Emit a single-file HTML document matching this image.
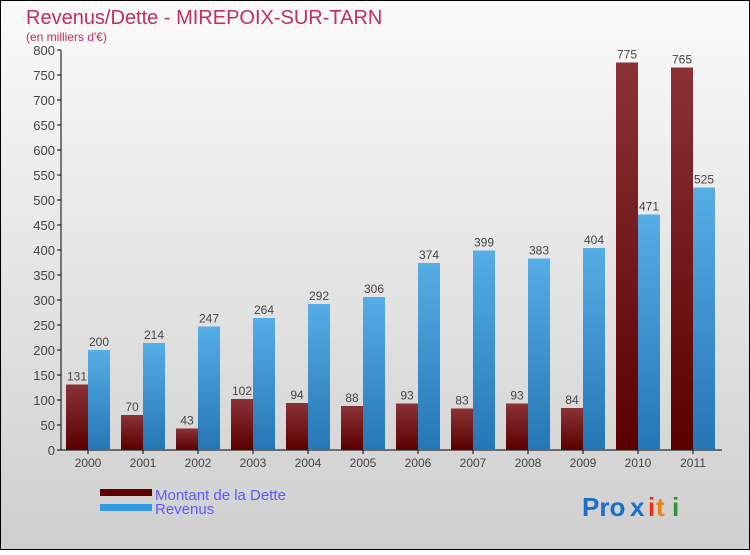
<!DOCTYPE html>
<html><head><meta charset="utf-8"><style>
body{margin:0;width:750px;height:550px;overflow:hidden;font-family:"Liberation Sans",sans-serif}
</style></head><body>
<svg id="chart" width="750" height="550" xmlns="http://www.w3.org/2000/svg" font-family="Liberation Sans, sans-serif">
<defs>
<linearGradient id="bg" x1="0" y1="0" x2="0" y2="1"><stop offset="0" stop-color="#fafafa"/><stop offset="1" stop-color="#cfcfcf"/></linearGradient>
<linearGradient id="gd" x1="0" y1="0" x2="0" y2="1"><stop offset="0" stop-color="#8a3236"/><stop offset="1" stop-color="#5a0000"/></linearGradient>
<linearGradient id="gr" x1="0" y1="0" x2="0" y2="1"><stop offset="0" stop-color="#56aee6"/><stop offset="1" stop-color="#2576b4"/></linearGradient>
</defs>
<rect x="0.5" y="0.5" width="749" height="549" fill="url(#bg)" stroke="#000"/>
<text x="26" y="24" font-size="20" fill="#c0305a">Revenus/Dette - MIREPOIX-SUR-TARN</text>
<text x="26" y="41" font-size="12" fill="#c0305a">(en milliers d'€)</text>
<g id="axes"></g><g id="bars"></g>
<rect x="100" y="489" width="52" height="7" fill="#600000"/>
<text x="155" y="500" font-size="15" fill="#5a5aff">Montant de la Dette</text>
<rect x="100" y="504" width="52" height="7" fill="#3399e0"/>
<text x="155" y="514" font-size="15" fill="#5a5aff">Revenus</text>
<g font-size="26" font-weight="bold">
<text x="582" y="516" fill="#1a6fc8">Pro</text><text x="630" y="516" fill="#1a6fc8">x</text><text x="648" y="516" fill="#e83010">i</text><text x="656" y="516" fill="#f08010">t</text><text x="672" y="516" fill="#2a9a30">i</text>
</g>
</svg>
<script>
const years=["2000","2001","2002","2003","2004","2005","2006","2007","2008","2009","2010","2011"];
const dette=[131,70,43,102,94,88,93,83,93,84,775,765];
const revenus=[200,214,247,264,292,306,374,399,383,404,471,525];
const yTicks=[0,50,100,150,200,250,300,350,400,450,500,550,600,650,700,750,800];
const NS="http://www.w3.org/2000/svg";
const y=v=>450-v*0.5;
const x=i=>62+55*i;
function mk(t,a,p){const e=document.createElementNS(NS,t);for(const k in a)e.setAttribute(k,a[k]);p.appendChild(e);return e;}
const ax=document.getElementById('axes'),bg=document.getElementById('bars');
const yl=mk('line',{x1:61,y1:50,x2:61,y2:450,stroke:'#000'},ax);


const xl=mk('line',{x1:61,y1:450,x2:722,y2:450,stroke:'#000'},ax);


yTicks.forEach(v=>{
  mk('line',{x1:57,y1:y(v),x2:61,y2:y(v),stroke:'#000'},ax);
  const t=mk('text',{x:55,y:y(v)+5,'text-anchor':'end','font-size':13,fill:'#444'},ax);
  t.textContent=v;
  
  
});
years.forEach((yr,i)=>{
  const gx=x(i);
  mk('line',{x1:gx+26,y1:450,x2:gx+26,y2:454,stroke:'#000'},ax);
  const t=mk('text',{x:gx+26,y:467,'text-anchor':'middle','font-size':12,fill:'#444'},ax);
  t.textContent=yr;
  
  
  const b1=mk('rect',{x:gx+4,y:y(dette[i]),width:22,height:450-y(dette[i]),fill:'url(#gd)'},bg);
  
  
  const b2=mk('rect',{x:gx+26,y:y(revenus[i]),width:22,height:450-y(revenus[i]),fill:'url(#gr)'},bg);
  
  
  const l1=mk('text',{x:gx+15,y:y(dette[i])-4,'text-anchor':'middle','font-size':12,fill:'#444'},bg);
  l1.textContent=dette[i];
  
  
  const l2=mk('text',{x:gx+37,y:y(revenus[i])-4,'text-anchor':'middle','font-size':12,fill:'#444'},bg);
  l2.textContent=revenus[i];
  
  
});
</script>
</body></html>
